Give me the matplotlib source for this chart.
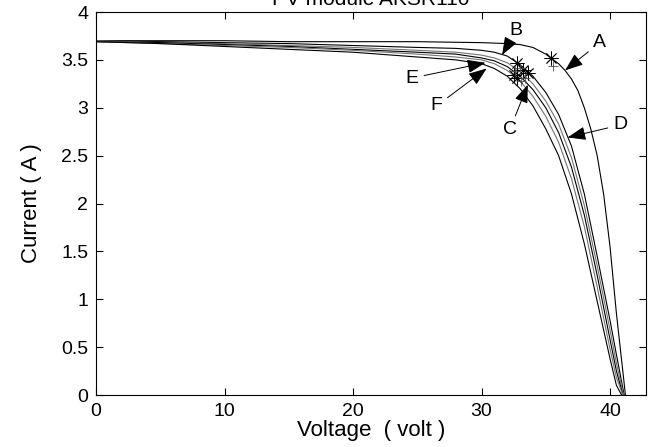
import matplotlib
matplotlib.use("Agg")
import matplotlib.pyplot as plt

plt.rcParams['font.family'] = ['Liberation Sans', 'DejaVu Sans']

# curve A (outer curve)
volt_a = [0, 5, 10, 15, 20, 25, 30, 32, 33, 34, 35, 36, 36.5, 37, 37.5, 38, 38.5, 39, 39.5, 40, 40.5, 41.2]
curr_a = [3.70, 3.70, 3.70, 3.69, 3.69, 3.69, 3.68, 3.67, 3.66, 3.63, 3.56, 3.46, 3.39, 3.30, 3.18,
          3.00, 2.78, 2.50, 2.10, 1.55, 0.85, 0]

# group of five inner curves, shared voltage grid + own open-circuit voltage
volt_grid = [0, 5, 10, 15, 20, 25, 28, 30, 31, 32, 33, 34, 35, 36, 37, 38, 39, 40, 40.5]
curr_b = [3.70, 3.69, 3.68, 3.67, 3.65, 3.63, 3.62, 3.60, 3.58, 3.54, 3.45, 3.33, 3.16, 2.93, 2.60, 2.10, 1.45, 0.78, 0.42]
curr_c = [3.70, 3.68, 3.67, 3.65, 3.63, 3.60, 3.58, 3.55, 3.52, 3.47, 3.38, 3.25, 3.07, 2.83, 2.48, 1.98, 1.35, 0.68, 0.33]
curr_d = [3.69, 3.68, 3.66, 3.64, 3.61, 3.58, 3.56, 3.52, 3.49, 3.43, 3.33, 3.19, 3.00, 2.74, 2.38, 1.88, 1.25, 0.58, 0.25]
curr_e = [3.69, 3.67, 3.65, 3.63, 3.60, 3.56, 3.53, 3.50, 3.46, 3.39, 3.28, 3.12, 2.91, 2.64, 2.26, 1.76, 1.13, 0.48, 0.18]
curr_f = [3.69, 3.67, 3.64, 3.61, 3.58, 3.53, 3.50, 3.46, 3.41, 3.33, 3.20, 3.02, 2.78, 2.50, 2.10, 1.58, 0.98, 0.38, 0.10]
voc_group = [41.1, 41.05, 41.0, 41.0, 40.9]
line_colors = ['k', '0.45', 'k', '0.45', 'k']

# maximum power points
mpp_v = [35.4, 32.8, 33.2, 33.6, 32.5, 32.8]
mpp_i = [3.52, 3.47, 3.39, 3.36, 3.34, 3.31]
plus_v = [35.6, 33.0, 33.4, 32.6, 33.1]
plus_i = [3.44, 3.42, 3.31, 3.38, 3.28]

# annotations: label, text position, arrow tip
labels = ['A', 'B', 'C', 'D', 'E', 'F']
text_v = [39.2, 32.7, 32.2, 40.8, 24.6, 26.5]
text_i = [3.68, 3.81, 2.77, 2.82, 3.31, 3.02]
tip_v = [36.5, 31.6, 33.6, 36.7, 30.3, 30.4]
tip_i = [3.39, 3.55, 3.24, 2.69, 3.47, 3.41]

fig = plt.figure(figsize=(6.5, 4.47), dpi=100)
ax = fig.add_axes([96 / 650, 1 - 395 / 447, 550 / 650, 383 / 447])

ax.plot(volt_a, curr_a, color='k', lw=0.8)
for curr, voc, col in zip([curr_b, curr_c, curr_d, curr_e, curr_f], voc_group, line_colors):
    ax.plot(volt_grid + [voc], curr + [0], color=col, lw=0.8)

ax.plot(mpp_v, mpp_i, ls='none', marker=(8, 2, 0), ms=10, mec='k', mew=0.6)
ax.plot(plus_v, plus_i, ls='none', marker='+', ms=7, mec='0.3', mew=0.6)

for lab, tx, ty, px, py in zip(labels, text_v, text_i, tip_v, tip_i):
    ax.annotate(lab, xy=(px, py), xytext=(tx, ty), fontsize=14, ha='center', va='center',
                arrowprops=dict(arrowstyle='-|>,head_length=0.8,head_width=0.3', color='k',
                                lw=0.7, shrinkA=2, shrinkB=0))

ax.set_xlim(0, 42.8)
ax.set_ylim(0, 4)
ax.set_xticks([0, 10, 20, 30, 40])
ax.set_yticks([0, 0.5, 1, 1.5, 2, 2.5, 3, 3.5, 4])
ax.set_yticklabels(['0', '0.5', '1', '1.5', '2', '2.5', '3', '3.5', '4'])
ax.tick_params(direction='in', top=True, right=True, length=5, width=0.8, labelsize=14, pad=5.5)
for sp in ax.spines.values():
    sp.set_linewidth(0.8)

ax.set_xlabel('Voltage  ( volt )', fontsize=16, labelpad=0)
ax.set_ylabel('Current ( A )', fontsize=16, labelpad=14)
fig.text(371 / 650, 1 - 5 / 447, 'PV module AKSR110', fontsize=15, ha='center', va='baseline')

fig.savefig('out.png', dpi=100)
